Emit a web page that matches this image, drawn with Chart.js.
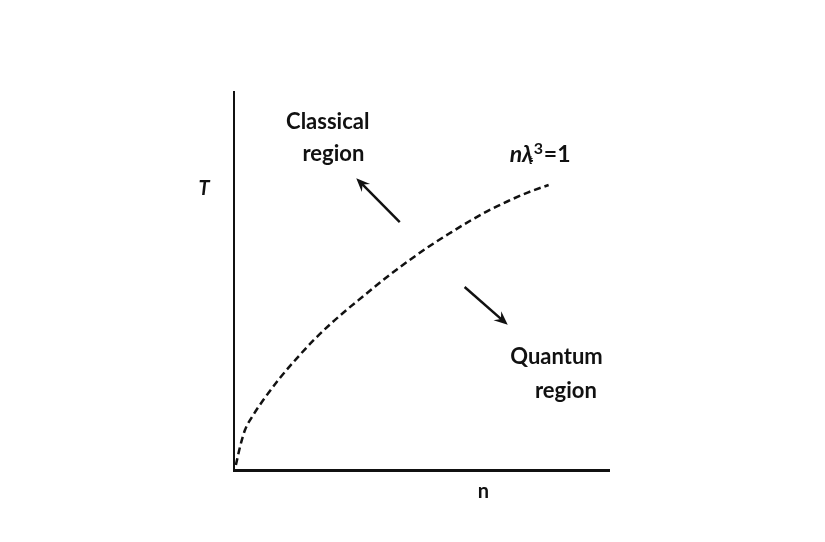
<!DOCTYPE html>
<html>
<head>
<meta charset="utf-8">
<script src="https://cdn.jsdelivr.net/npm/chart.js@4.4.0/dist/chart.umd.min.js"></script>
<style>
  html, body { margin: 0; padding: 0; background: #fff; }
  #wrap { width: 825px; height: 542px; }
</style>
</head>
<body>
<div id="wrap"><canvas id="phaseChart"></canvas></div>
<script>
// boundary curve n*lambda^3 = 1 (arbitrary units 0..100)
const densityN = [0.5, 1.6, 2.9, 5.1, 7.8, 12.3, 16.8, 21.1, 25.7, 30.2, 34.5, 37.7, 43.6, 47.9, 52.4, 57.8, 63.1, 67.6, 73, 78.3, 83.9];
const temperatureT = [1.3, 6.1, 10.5, 14.5, 18.5, 24.4, 29.6, 34.2, 38.6, 42.5, 46, 48.6, 53.2, 56.3, 59.4, 62.8, 66, 68.5, 71.1, 73.4, 75.4];

const classicalLabel = ['Classical', 'region'];
const quantumLabel = ['Quantum', 'region'];
const xAxisLabel = 'n';
const yAxisLabel = 'T';

const points = densityN.map((n, i) => ({ x: n, y: temperatureT[i] }));

function arrow(ctx, x1, y1, x2, y2) {
  const ang = Math.atan2(y2 - y1, x2 - x1);
  const head = 15;
  ctx.beginPath();
  ctx.moveTo(x1, y1);
  ctx.lineTo(x2 - Math.cos(ang) * 6, y2 - Math.sin(ang) * 6);
  ctx.lineWidth = 2.5;
  ctx.stroke();
  ctx.beginPath();
  ctx.moveTo(x2, y2);
  ctx.lineTo(x2 - head * Math.cos(ang - 0.4), y2 - head * Math.sin(ang - 0.4));
  ctx.lineTo(x2 - head * 0.6 * Math.cos(ang), y2 - head * 0.6 * Math.sin(ang));
  ctx.lineTo(x2 - head * Math.cos(ang + 0.4), y2 - head * Math.sin(ang + 0.4));
  ctx.closePath();
  ctx.fill();
}

const labelsPlugin = {
  id: 'labels',
  afterDraw(chart) {
    const ctx = chart.ctx;
    const xs = chart.scales.x, ys = chart.scales.y;
    const px = v => xs.getPixelForValue(v);
    const py = v => ys.getPixelForValue(v);
    ctx.save();
    ctx.fillStyle = '#111';
    ctx.strokeStyle = '#111';
    ctx.textAlign = 'center';
    ctx.textBaseline = 'middle';
    ctx.font = 'bold 22px Lato';
    ctx.fillText(classicalLabel[0], px(25), py(92));
    ctx.fillText(classicalLabel[1], px(26.5), py(83.5));
    ctx.fillText(quantumLabel[0], px(86), py(30));
    ctx.fillText(quantumLabel[1], px(88.5), py(21));

    // n lambda_t^3 = 1
    ctx.textAlign = 'left';
    ctx.font = 'italic bold 23px Lato';
    let x0 = px(73.5), y0 = py(83.5);
    ctx.fillText('nλ', x0, y0);
    let w = ctx.measureText('nλ').width;
    ctx.font = 'italic bold 11px Lato';
    ctx.fillText('t', x0 + w - 5, y0 + 6);
    ctx.font = 'bold 16px Lato';
    ctx.fillText('3', x0 + w, y0 - 6);
    ctx.font = 'bold 23px Lato';
    ctx.fillText('=1', x0 + w + 10, y0);

    // axis letters
    ctx.textAlign = 'center';
    ctx.font = 'italic bold 20px Lato';
    ctx.fillText(yAxisLabel, px(-8), py(74.5));
    ctx.font = 'bold 20px Lato';
    ctx.fillText(xAxisLabel, px(66.5), py(-5.8));

    // arrows
    arrow(ctx, px(44.2), py(65.6), px(32.6), py(77.2));
    arrow(ctx, px(61.5), py(48.4), px(73), py(38.4));
    ctx.restore();
  }
};

new Chart(document.getElementById('phaseChart'), {
  type: 'scatter',
  data: {
    datasets: [{
      data: points,
      showLine: true,
      borderColor: '#111',
      borderWidth: 2.5,
      borderDash: [7, 4],
      pointRadius: 0,
      cubicInterpolationMode: 'monotone',
      fill: false
    }]
  },
  options: {
    responsive: true,
    maintainAspectRatio: false,
    animation: false,
    layout: { padding: { left: 226, right: 216, top: 92, bottom: 64 } },
    plugins: { legend: { display: false }, tooltip: { enabled: false } },
    scales: {
      x: {
        min: 0, max: 100,
        grid: { display: false },
        ticks: { display: false },
        border: { display: true, color: '#111', width: 3 }
      },
      y: {
        min: 0, max: 100,
        grid: { display: false },
        ticks: { display: false },
        border: { display: true, color: '#111', width: 2 }
      }
    }
  },
  plugins: [labelsPlugin]
});
</script>
</body>
</html>
